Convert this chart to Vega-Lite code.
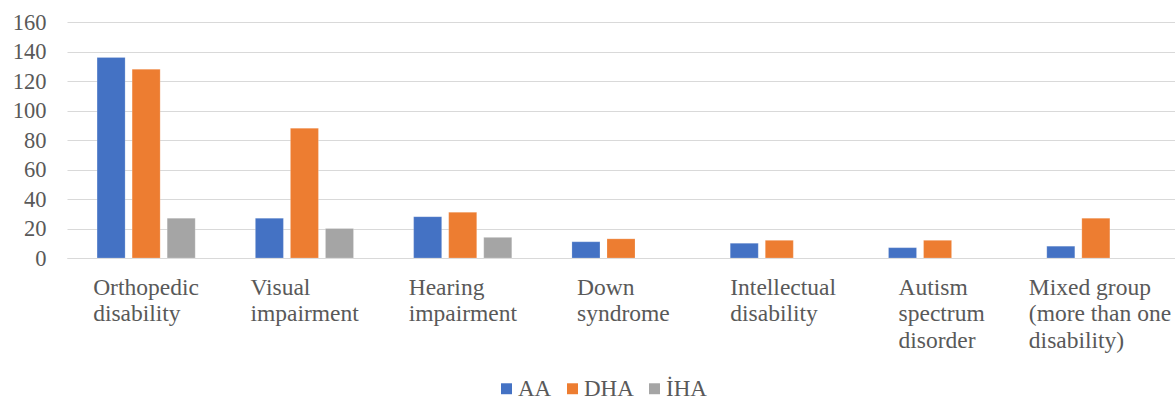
{
  "$schema": "https://vega.github.io/schema/vega-lite/v6.json",
  "width": 1108,
  "height": 236,
  "autosize": {"type": "none"},
  "padding": {"left": 67, "top": 22, "right": 0, "bottom": 143},
  "background": "white",
  "data": {
    "values": [
      {"category": "Orthopedic disability", "group": "AA", "value": 136},
      {"category": "Orthopedic disability", "group": "DHA", "value": 128},
      {"category": "Orthopedic disability", "group": "İHA", "value": 27},
      {"category": "Visual impairment", "group": "AA", "value": 27},
      {"category": "Visual impairment", "group": "DHA", "value": 88},
      {"category": "Visual impairment", "group": "İHA", "value": 20},
      {"category": "Hearing impairment", "group": "AA", "value": 28},
      {"category": "Hearing impairment", "group": "DHA", "value": 31},
      {"category": "Hearing impairment", "group": "İHA", "value": 14},
      {"category": "Down syndrome", "group": "AA", "value": 11},
      {"category": "Down syndrome", "group": "DHA", "value": 13},
      {"category": "Intellectual disability", "group": "AA", "value": 10},
      {"category": "Intellectual disability", "group": "DHA", "value": 12},
      {"category": "Autism spectrum disorder", "group": "AA", "value": 7},
      {"category": "Autism spectrum disorder", "group": "DHA", "value": 12},
      {"category": "Mixed group (more than one disability)", "group": "AA", "value": 8},
      {"category": "Mixed group (more than one disability)", "group": "DHA", "value": 27}
    ]
  },
  "mark": {"type": "bar", "stroke": "white", "strokeWidth": 0.5, "strokeOpacity": 0.4},
  "encoding": {
    "x": {
      "field": "category",
      "type": "nominal",
      "sort": null,
      "scale": {"paddingInner": 0.38, "paddingOuter": 0.19},
      "axis": {
        "title": null,
        "labelAngle": 0,
        "ticks": false,
        "domainColor": "#d9d9d9",
        "domainWidth": 1,
        "labelFont": "Times New Roman, Liberation Serif, serif",
        "labelFontSize": 23.5,
        "labelColor": "#595959",
        "labelPadding": 17,
        "labelLineHeight": 26.5,
        "labelBaseline": "top",
        "labelLimit": 300,
        "labelAlign": "left",
        "labelOffset": {
          "condition": [
            {"test": "datum.value == 'Orthopedic disability'", "value": -53},
            {"test": "datum.value == 'Visual impairment'", "value": -54},
            {"test": "datum.value == 'Hearing impairment'", "value": -54},
            {"test": "datum.value == 'Down syndrome'", "value": -44},
            {"test": "datum.value == 'Intellectual disability'", "value": -49},
            {"test": "datum.value == 'Autism spectrum disorder'", "value": -39}
          ],
          "value": -67
        },
        "labelExpr": "datum.value == 'Mixed group (more than one disability)' ? ['Mixed group', '(more than one', 'disability)'] : split(datum.value, ' ')"
      }
    },
    "xOffset": {
      "field": "group",
      "type": "nominal",
      "scale": {"paddingInner": 0.2, "paddingOuter": 0}
    },
    "y": {
      "field": "value",
      "type": "quantitative",
      "scale": {"domain": [0, 160]},
      "axis": {
        "title": null,
        "values": [0, 20, 40, 60, 80, 100, 120, 140, 160],
        "domain": false,
        "ticks": false,
        "gridColor": "#d9d9d9",
        "gridWidth": 1,
        "labelFont": "Times New Roman, Liberation Serif, serif",
        "labelFontSize": 22.5,
        "labelColor": "#595959",
        "labelPadding": 21
      }
    },
    "color": {
      "field": "group",
      "type": "nominal",
      "scale": {"domain": ["AA", "DHA", "İHA"], "range": ["#4472C4", "#ED7D31", "#A5A5A5"]},
      "legend": {
        "title": null,
        "orient": "none",
        "direction": "horizontal",
        "legendX": 428,
        "legendY": 355,
        "symbolType": "square",
        "symbolSize": 120,
        "symbolStrokeWidth": 0,
        "labelFont": "Times New Roman, Liberation Serif, serif",
        "labelFontSize": 23,
        "labelColor": "#595959",
        "labelOffset": 0,
        "columnPadding": 9
      }
    }
  },
  "config": {"view": {"stroke": null}}
}
